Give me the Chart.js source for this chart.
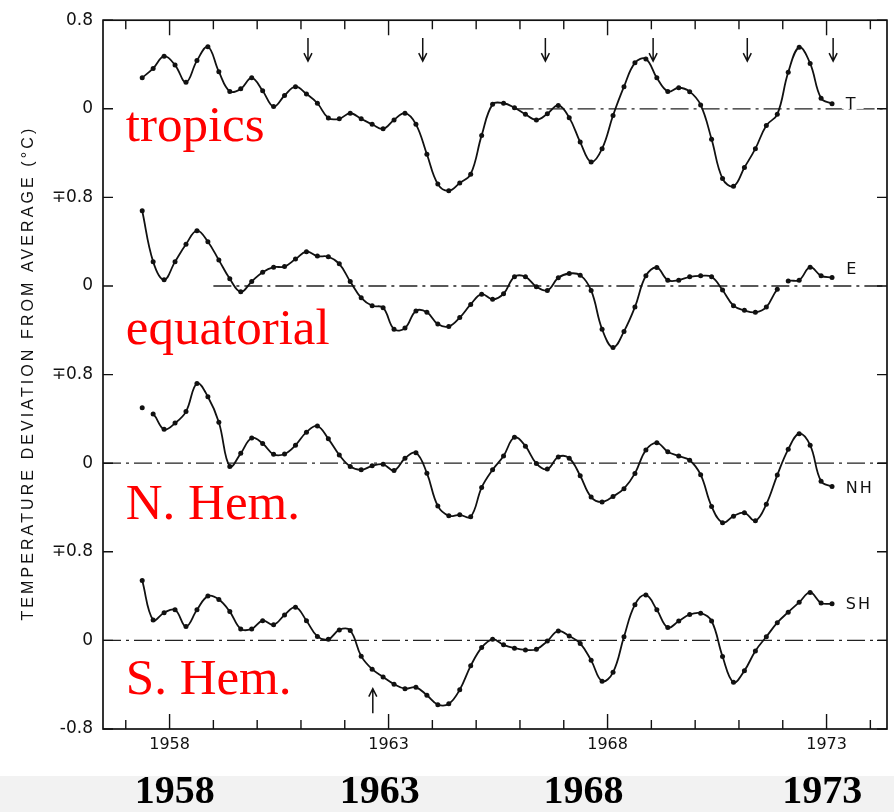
<!DOCTYPE html>
<html><head><meta charset="utf-8">
<script src="https://cdn.jsdelivr.net/npm/chart.js@4"></script>
<style>html,body{margin:0;padding:0;background:#fff}#wrap{width:894px;height:812px;position:relative}</style>
</head><body><div id="wrap"><canvas id="c" width="894" height="812"></canvas></div>
<script>
// quarterly time points (decimal years)
const quarterYears = [
 1957.375,1957.625,1957.875,1958.125,1958.375,1958.625,1958.875,1959.125,1959.375,1959.625,
 1959.875,1960.125,1960.375,1960.625,1960.875,1961.125,1961.375,1961.625,1961.875,1962.125,
 1962.375,1962.625,1962.875,1963.125,1963.375,1963.625,1963.875,1964.125,1964.375,1964.625,
 1964.875,1965.125,1965.375,1965.625,1965.875,1966.125,1966.375,1966.625,1966.875,1967.125,
 1967.375,1967.625,1967.875,1968.125,1968.375,1968.625,1968.875,1969.125,1969.375,1969.625,
 1969.875,1970.125,1970.375,1970.625,1970.875,1971.125,1971.375,1971.625,1971.875,1972.125,
 1972.375,1972.625,1972.875,1973.125];
// temperature deviations (°C)
const tropics = [
 0.28,0.365,0.475,0.395,0.24,0.435,0.56,0.335,0.157,0.18,
 0.28,0.163,0.02,0.12,0.2,0.134,0.05,-0.083,-0.09,-0.04,
 -0.09,-0.14,-0.18,-0.10,-0.04,-0.14,-0.41,-0.68,-0.74,-0.67,
 -0.59,-0.24,0.04,0.05,0.01,-0.05,-0.10,-0.045,0.03,-0.08,
 -0.30,-0.48,-0.36,-0.06,0.20,0.415,0.45,0.28,0.157,0.19,
 0.155,0.035,-0.275,-0.63,-0.70,-0.53,-0.36,-0.15,-0.05,0.33,
 0.555,0.41,0.095,0.045];
const equatorial = [
 0.68,0.22,0.056,0.22,0.377,0.50,0.40,0.234,0.065,-0.053,
 0.04,0.125,0.17,0.175,0.243,0.31,0.27,0.264,0.20,0.04,
 -0.107,-0.178,-0.196,-0.39,-0.38,-0.225,-0.237,-0.344,-0.365,-0.285,
 -0.166,-0.074,-0.12,-0.07,0.083,0.083,-0.006,-0.04,0.074,0.113,
 0.098,-0.04,-0.39,-0.555,-0.41,-0.19,0.092,0.166,0.053,0.053,
 0.083,0.092,0.083,-0.036,-0.178,-0.22,-0.237,-0.19,-0.03,0.045,
 0.053,0.17,0.092,0.077];
const nHem = [
 0.50,0.445,0.306,0.362,0.466,0.72,0.60,0.37,-0.03,0.089,
 0.228,0.178,0.08,0.083,0.163,0.28,0.335,0.22,0.074,-0.03,
 -0.06,-0.024,-0.01,-0.065,0.045,0.095,-0.09,-0.386,-0.475,-0.466,
 -0.484,-0.22,-0.06,0.065,0.234,0.154,-0.003,-0.053,0.056,0.045,
 -0.113,-0.306,-0.35,-0.30,-0.23,-0.092,0.119,0.184,0.104,0.065,
 0.027,-0.104,-0.39,-0.537,-0.478,-0.448,-0.52,-0.37,-0.107,0.125,
 0.267,0.163,-0.163,-0.21];
const sHem = [
 0.54,0.184,0.25,0.276,0.125,0.276,0.40,0.37,0.26,0.104,
 0.104,0.178,0.142,0.23,0.30,0.178,0.036,0.01,0.095,0.089,
 -0.142,-0.26,-0.33,-0.395,-0.436,-0.424,-0.495,-0.58,-0.573,-0.445,
 -0.23,-0.065,0.01,-0.04,-0.07,-0.086,-0.08,-0.006,0.086,0.039,
 -0.027,-0.18,-0.368,-0.288,0.033,0.323,0.41,0.276,0.116,0.175,
 0.234,0.246,0.175,-0.145,-0.377,-0.273,-0.095,0.033,0.16,0.255,
 0.344,0.433,0.338,0.33];

const seriesTags = ['T','E','NH','SH'];
const panelNames = ['tropics','equatorial','N. Hem.','S. Hem.'];
const panelOffsets = [4.8, 3.2, 1.6, 0];
const lineGaps = [[], [58], [0], []];          // segments left undrawn
const zeroLineStart = [1965.9, 1959.0, 1956.48, 1956.48];
const tagPos = [[1973.44, 4.835], [1973.45, 3.35], [1973.44, 1.365], [1973.44, 0.32]];
const namePos = [[1957.0, 4.505], [1957.0, 2.68], [1957.0, 1.096], [1957.0, -0.48]];

const yTickValues = [-0.8, 0, 0.8, 1.6, 2.4, 3.2, 4.0, 4.8, 5.6];
const yTickLabels = ['-0.8', '0', '\u22130.8', '0', '\u22130.8', '0', '\u22130.8', '0', '0.8'];
const xTickYears = [1957,1958,1959,1960,1961,1962,1963,1964,1965,1966,1967,1968,1969,1970,1971,1972,1973,1974];
const xLabelYears = [1958, 1963, 1968, 1973];
const bigYearLabels = ['1958', '1963', '1968', '1973'];
const bigYearPos = [1958.12, 1962.8, 1967.45, 1972.9];
const downArrowYears = [1961.16, 1963.78, 1966.58, 1969.04, 1971.19, 1973.15];
const upArrowYears = [1962.64];
const yTitle = 'TEMPERATURE DEVIATION FROM AVERAGE (\u00B0C)';

const X_MIN = 1956.48, X_MAX = 1974.38;
const series = [tropics, equatorial, nHem, sHem];

const datasets = [];
series.forEach((vals, k) => {
  datasets.push({
    data: [{x: zeroLineStart[k], y: panelOffsets[k]}, {x: X_MAX, y: panelOffsets[k]}],
    borderColor: '#222', borderWidth: 1.3, borderDash: [18, 5, 3, 5],
    pointRadius: 0, tension: 0, order: 2
  });
});
series.forEach((vals, k) => {
  const gaps = lineGaps[k];
  datasets.push({
    data: vals.map((v, i) => ({x: quarterYears[i], y: v + panelOffsets[k]})),
    borderColor: '#111', borderWidth: 1.8, tension: 0.4,
    pointRadius: 2.5, pointBackgroundColor: '#111', pointBorderWidth: 0,
    segment: { borderColor: c => gaps.includes(c.p0DataIndex) ? 'rgba(0,0,0,0)' : undefined },
    order: 1
  });
});

const overlay = {
  id: 'overlay',
  beforeDraw(chart) {
    const g = chart.ctx;
    g.save();
    g.fillStyle = '#fff'; g.fillRect(0, 0, chart.width, chart.height);
    g.fillStyle = '#f2f2f2'; g.fillRect(0, 776, chart.width, chart.height - 776);
    g.restore();
  },
  afterDraw(chart) {
    const g = chart.ctx, a = chart.chartArea, xs = chart.scales.x, ys = chart.scales.y;
    g.save();
    g.strokeStyle = '#111'; g.lineWidth = 1.7;
    g.strokeRect(a.left, a.top, a.right - a.left, a.bottom - a.top);
    g.lineWidth = 1.4;
    g.beginPath();
    xTickYears.forEach(yr => {
      const px = xs.getPixelForValue(yr);
      const len = xLabelYears.includes(yr) ? 15 : 9;
      g.moveTo(px, a.bottom); g.lineTo(px, a.bottom - len);
      g.moveTo(px, a.top); g.lineTo(px, a.top + len);
    });
    yTickValues.forEach(v => {
      const py = ys.getPixelForValue(v);
      g.moveTo(a.left, py); g.lineTo(a.left + 10, py);
      g.moveTo(a.right, py); g.lineTo(a.right - 10, py);
    });
    g.stroke();
    // arrows
    const arrow = (px, yTail, yHead) => {
      const dir = yHead > yTail ? 1 : -1;
      g.beginPath();
      g.moveTo(px, yTail); g.lineTo(px, yHead);
      g.moveTo(px - 4, yHead - dir * 8); g.lineTo(px, yHead); g.lineTo(px + 4, yHead - dir * 8);
      g.stroke();
    };
    g.lineWidth = 1.5;
    downArrowYears.forEach(yr => arrow(xs.getPixelForValue(yr), ys.getPixelForValue(5.44), ys.getPixelForValue(5.23)));
    upArrowYears.forEach(yr => arrow(xs.getPixelForValue(yr), ys.getPixelForValue(-0.657), ys.getPixelForValue(-0.435)));
    // series tags
    g.font = '16px "DejaVu Sans"'; g.textBaseline = 'middle'; g.textAlign = 'left';
    g.letterSpacing = '2px';
    seriesTags.forEach((t, k) => {
      const px = xs.getPixelForValue(tagPos[k][0]), py = ys.getPixelForValue(tagPos[k][1]);
      const w = g.measureText(t).width;
      if (k === 0) { g.fillStyle = '#fff'; g.fillRect(px - 4, py - 4, w + 10, 8); }
      g.fillStyle = '#111'; g.fillText(t, px, py);
    });
    g.letterSpacing = '0px';
    // red panel names
    g.font = '51px "Liberation Serif"'; g.fillStyle = '#ff0000'; g.textBaseline = 'alphabetic';
    panelNames.forEach((t, k) => g.fillText(t, xs.getPixelForValue(namePos[k][0]), ys.getPixelForValue(namePos[k][1])));
    // big year labels
    g.font = 'bold 40px "Liberation Serif"'; g.fillStyle = '#000'; g.textAlign = 'center';
    bigYearLabels.forEach((t, k) => g.fillText(t, xs.getPixelForValue(bigYearPos[k]), 803));
    // y title
    g.font = '16px "Liberation Sans"'; g.fillStyle = '#111';
    const target = 492;
    const w0 = g.measureText(yTitle).width;
    const sp = (target - w0) / (yTitle.length - 1);
    g.letterSpacing = sp.toFixed(2) + 'px';
    g.translate(29, (a.top + a.bottom) / 2);
    g.rotate(-Math.PI / 2);
    g.textAlign = 'left'; g.textBaseline = 'middle';
    g.fillText(yTitle, -target / 2, 0);
    g.restore();
  }
};

new Chart(document.getElementById('c'), {
  type: 'line',
  data: { datasets },
  options: {
    responsive: false, animation: false, devicePixelRatio: 1,
    layout: { padding: { top: 10, right: 7, left: 0, bottom: 0 } },
    plugins: { legend: { display: false }, tooltip: { enabled: false } },
    scales: {
      x: {
        type: 'linear', min: X_MIN, max: X_MAX,
        grid: { display: false, drawTicks: false }, border: { display: false },
        afterBuildTicks: s => { s.ticks = xLabelYears.map(v => ({ value: v })); },
        ticks: { callback: v => String(v), font: { family: 'DejaVu Sans', size: 16 }, color: '#111', padding: 6, maxRotation: 0, autoSkip: false },
        afterFit: s => { s.height = 83; }
      },
      y: {
        type: 'linear', min: -0.8, max: 5.6,
        grid: { display: false, drawTicks: false }, border: { display: false },
        afterBuildTicks: s => { s.ticks = yTickValues.map(v => ({ value: v })); },
        ticks: { callback: (v, i) => yTickLabels[i], font: { family: 'DejaVu Sans', size: 17 }, color: '#111', padding: 10, autoSkip: false },
        afterFit: s => { s.width = 103; }
      }
    }
  },
  plugins: [overlay]
});
</script></body></html>
